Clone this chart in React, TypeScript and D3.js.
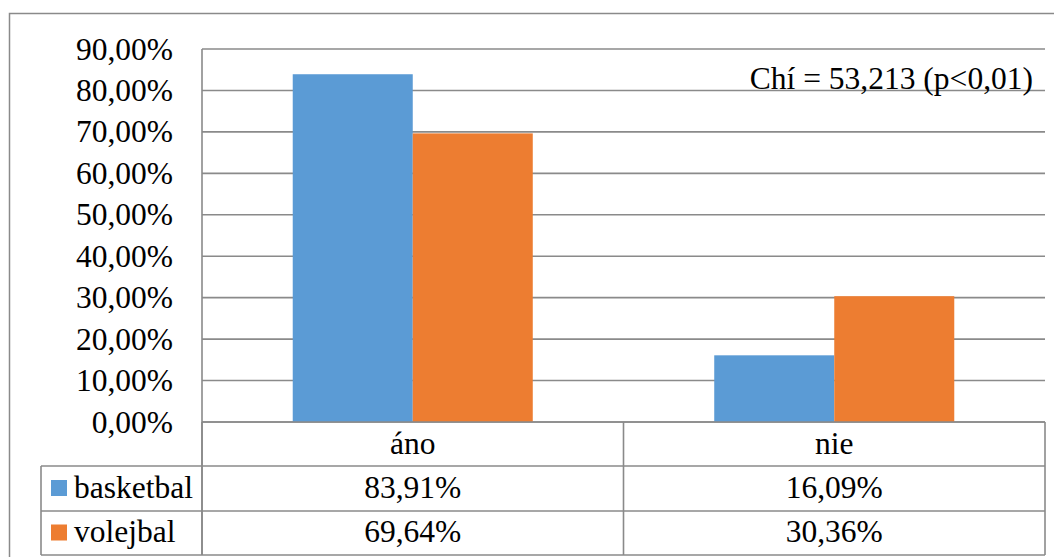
import React from "react";
import * as d3 from "d3";

const categories = ["áno", "nie"];
const seriesNames = ["basketbal", "volejbal"];
const basketbal = [83.91, 16.09];
const volejbal = [69.64, 30.36];
const yTicks = [0, 10, 20, 30, 40, 50, 60, 70, 80, 90];
const colors = ["#5B9BD5", "#ED7D31"];
const annotation = "Chí = 53,213 (p<0,01)";

const W = 1054;
const H = 557;
const plot = { left: 202, right: 1045, top: 49, bottom: 422 };
const rowH = [44, 45, 44];
const legendLeft = 41;
const font = "Liberation Serif, Tinos, Times New Roman, Times, DejaVu Serif, serif";
const gridColor = "#8a8a8a";

const fmt = (v: number) => v.toFixed(2).replace(".", ",") + "%";

export default function App() {
  const values = [basketbal, volejbal];

  const x0 = d3
    .scaleBand<string>()
    .domain(categories)
    .range([plot.left, plot.right])
    .paddingInner(0)
    .paddingOuter(0);
  const x1 = d3
    .scaleBand<string>()
    .domain(seriesNames)
    .range([0, x0.bandwidth()])
    .paddingInner(0)
    .paddingOuter(0.756);
  const y = d3.scaleLinear().domain([0, 90]).range([plot.bottom, plot.top]);

  const rowTop = [plot.bottom, plot.bottom + rowH[0], plot.bottom + rowH[0] + rowH[1]];
  const tableBottom = rowTop[2] + rowH[2];
  const textStyle = { fontFamily: font, fontSize: 31.5 };

  return (
    <svg width={W} height={H} style={{ position: "absolute", left: 0, top: 0, display: "block" }}>
      <rect x={0} y={0} width={W} height={H} fill="#ffffff" />
      {/* outer chart frame */}
      <rect x={9.5} y={13.5} width={W + 10} height={H + 10} fill="none" stroke={gridColor} strokeWidth={1.5} />

      {/* gridlines */}
      {yTicks.map((t) => (
        <line key={t} x1={plot.left} x2={plot.right} y1={y(t)} y2={y(t)} stroke={gridColor} strokeWidth={1.6} />
      ))}
      <line x1={plot.left} x2={plot.left} y1={plot.top} y2={tableBottom} stroke={gridColor} strokeWidth={1.6} />

      {/* y tick labels */}
      {yTicks.map((t) => (
        <text key={t} x={173} y={y(t) + 10.5} textAnchor="end" style={textStyle} fill="#000">
          {fmt(t)}
        </text>
      ))}

      {/* bars */}
      {categories.map((c, ci) =>
        seriesNames.map((s, si) => (
          <rect
            key={c + s}
            x={(x0(c) as number) + (x1(s) as number)}
            y={y(values[si][ci])}
            width={x1.bandwidth()}
            height={y(0) - y(values[si][ci])}
            fill={colors[si]}
          />
        ))
      )}

      {/* baseline drawn over the bars */}
      <line x1={plot.left} x2={plot.right} y1={y(0)} y2={y(0)} stroke={gridColor} strokeWidth={1.6} />

      {/* data table */}
      <g stroke={gridColor} strokeWidth={1.6} fill="none">
        <line x1={plot.right} x2={plot.right} y1={plot.bottom} y2={tableBottom} />
        {categories.map((c) => (
          <line key={c} x1={x0(c) as number} x2={x0(c) as number} y1={plot.bottom} y2={tableBottom} />
        ))}
        <line x1={legendLeft} x2={plot.right} y1={rowTop[1]} y2={rowTop[1]} />
        <line x1={legendLeft} x2={plot.right} y1={rowTop[2]} y2={rowTop[2]} />
        <line x1={legendLeft} x2={plot.right} y1={tableBottom} y2={tableBottom} />
        <line x1={legendLeft} x2={legendLeft} y1={rowTop[1]} y2={tableBottom} />
      </g>

      {categories.map((c) => (
        <text
          key={c}
          x={(x0(c) as number) + x0.bandwidth() / 2}
          y={rowTop[0] + rowH[0] / 2 + 9.5}
          textAnchor="middle"
          style={textStyle}
        >
          {c}
        </text>
      ))}

      {seriesNames.map((s, si) => {
        const cy = rowTop[si + 1] + rowH[si + 1] / 2;
        return (
          <g key={s}>
            <rect x={51} y={cy - 8.5} width={16} height={16} fill={colors[si]} />
            <text x={74} y={cy + 9} style={textStyle}>
              {s}
            </text>
            {categories.map((c, ci) => (
              <text
                key={c}
                x={(x0(c) as number) + x0.bandwidth() / 2}
                y={cy + 9}
                textAnchor="middle"
                style={textStyle}
              >
                {fmt(values[si][ci])}
              </text>
            ))}
          </g>
        );
      })}

      {/* annotation */}
      <text x={1033} y={88.5} textAnchor="end" style={textStyle}>
        {annotation}
      </text>
    </svg>
  );
}
